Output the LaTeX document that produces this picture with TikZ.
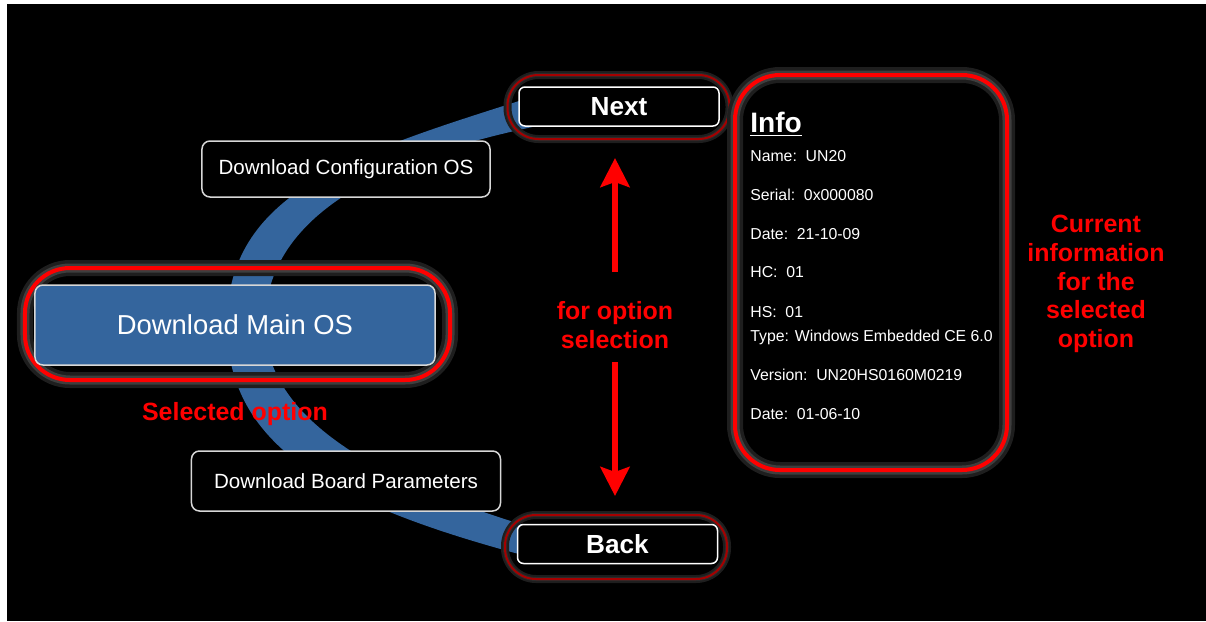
\documentclass[tikz,border=0pt]{standalone}
\usepackage{fontspec}
\setmainfont{Liberation Sans}
\usetikzlibrary{arrows.meta}

\definecolor{bandblue}{RGB}{52,101,157}
\definecolor{halo}{RGB}{62,62,62}
\definecolor{halodark}{RGB}{30,30,30}
\definecolor{darkring}{RGB}{165,0,0}
\definecolor{edgegrey}{RGB}{215,215,215}

\tikzset{
  optbox/.style={draw=edgegrey, line width=0.3mm, fill=black, rounded corners=1.6mm,
    inner sep=0pt, text=white, font=\fontsize{11.7}{14}\selectfont},
  mainbox/.style={draw=edgegrey, line width=0.3mm, fill=bandblue, rounded corners=1.6mm,
    inner sep=0pt, minimum width=80mm, minimum height=16mm, text=white,
    font=\fontsize{15.6}{18}\selectfont},
  navbtn/.style={draw=white, line width=0.3mm, fill=black, rounded corners=1.2mm,
    inner sep=0pt, minimum width=40mm, minimum height=7.8mm, text=white,
    font=\bfseries\fontsize{14.9}{17}\selectfont},
  navring/.style={draw=darkring, line width=0.4mm, rounded corners=6.2mm, inner sep=0pt,
    minimum width=44.4mm, minimum height=12.8mm,
    preaction={draw=halodark, line width=1.6mm}, preaction={draw=halo!70!black, line width=0.8mm}},
  bigring/.style={draw=red, line width=0.8mm, rounded corners=9mm, inner sep=0pt,
    preaction={draw=halodark, line width=3.2mm}, preaction={draw=halo, line width=1.8mm}},
  note/.style={text=red, align=center, inner sep=0pt,
    font=\bfseries\fontsize{14.2}{16.4}\selectfont},
  infoline/.style={anchor=west, inner sep=0pt, text=white, font=\fontsize{9}{11}\selectfont},
  selarrow/.style={draw=red, line width=1.2mm, -{Stealth[length=5.8mm, width=5.8mm, inset=1mm]}},
}

\begin{document}
\begin{tikzpicture}[x=0.2mm, y=-0.2mm]
\useasboundingbox (0,0) rectangle (1206,621);
\fill[white] (0,0) rectangle (1206,621);
\fill[black] (7,4) rectangle (1206,621);

\fill[bandblue] (555,92) -- (519,101) .. controls (349,155) and (227,194) .. (227,324)
  .. controls (227,440) and (320,500) .. (515,553) -- (545,560) -- (545,530) -- (517,523)
  .. controls (380,480) and (265,420) .. (265,324)
  .. controls (265,200) and (420,150) .. (542,125) -- cycle;

\node[optbox, minimum width=57.6mm, minimum height=11.2mm] (config) at (346,169) {Download Configuration OS};
\node[optbox, minimum width=61.8mm, minimum height=12mm] (board) at (346,481) {Download Board Parameters};
\node[bigring, minimum width=85mm, minimum height=22.4mm] (mainring) at (237.5,324) {};
\node[mainbox] (main) at (235,325) {Download Main OS};

\node[navring] (nextring) at (618.5,107) {};
\node[navbtn] (next) at (619,106.5) {Next};
\node[navring] (backring) at (616,547) {};
\node[navbtn] (back) at (617.5,544) {Back};

\node[bigring, minimum width=54.4mm, minimum height=79mm] (info) at (871,272.5) {};
\node[anchor=west, inner sep=0pt, text=white, font=\bfseries\fontsize{16}{19}\selectfont] (infotitle) at (750,124) {\underline{Info}};
\foreach \y/\t [count=\i] in {156/{Name:\ \ UN20}, 195/{Serial:\ \ 0x000080}, 234/{Date:\ \ 21-10-09},
  272/{HC:\ \ 01}, 312/{HS:\ \ 01}, 337/{Type: Windows Embedded CE 6.0},
  375/{Version:\ \ UN20HS0160M0219}, 414/{Date:\ \ 01-06-10}}
  \node[infoline] (info\i) at (750,\y) {\t};

\node[note] (sellabel) at (235,414) {Selected option};
\node[note] (optlabel) at (615,325) {for option\\selection};
\node[note] (curlabel) at (1096,284) {Current\\information\\for the\\selected\\option};

\coordinate (uptip) at (615,158);
\coordinate (downtip) at (615,496);
\draw[selarrow, shorten <=10.6mm] (optlabel.center) -- (uptip);
\draw[selarrow, shorten <=7.4mm] (optlabel.center) -- (downtip);
\end{tikzpicture}
\end{document}
